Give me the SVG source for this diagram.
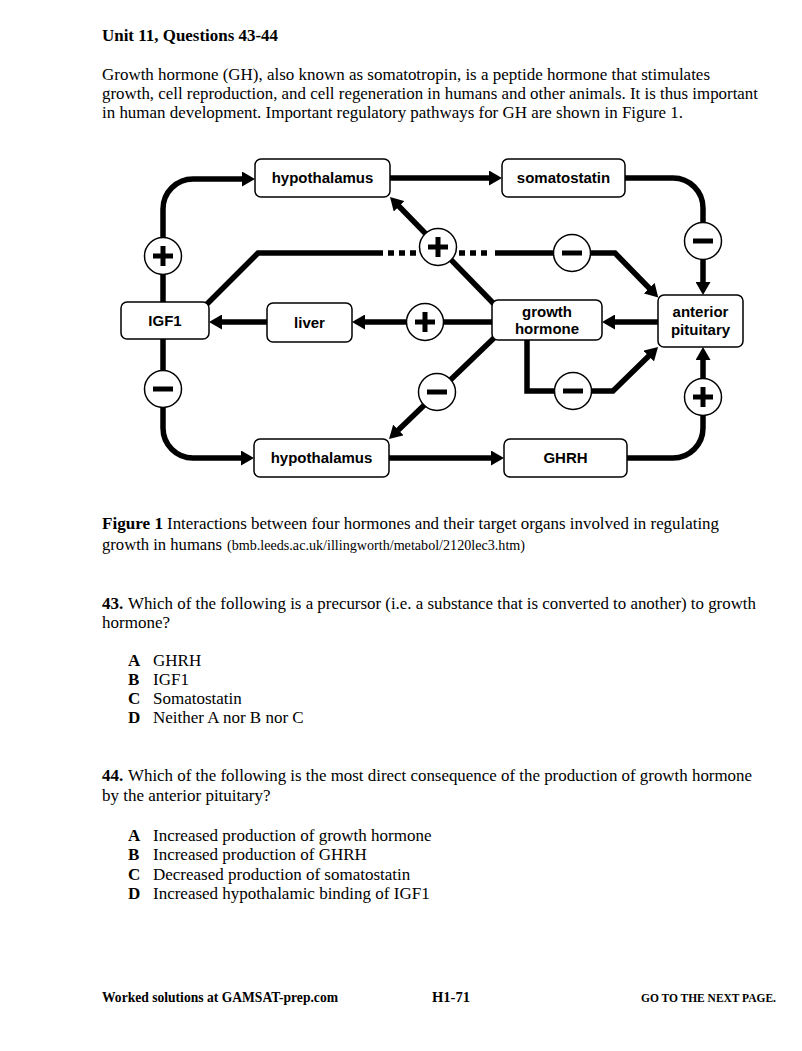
<svg xmlns="http://www.w3.org/2000/svg" width="802" height="1051" viewBox="0 0 802 1051">
<style>
.t{font-family:"Liberation Serif","Times New Roman",serif;font-size:17px;fill:#000}
.b{font-weight:bold}
.s{font-size:14px}
.f{font-size:14.5px}
.g{font-size:11.5px}
.n{font-family:"Liberation Sans",Arial,sans-serif;font-size:15px;font-weight:bold;fill:#000;text-anchor:middle}
.box{fill:#fff;stroke:#000;stroke-width:1.5}
.c{fill:none;stroke:#000;stroke-width:5.5}
.ca{fill:none;stroke:#000;stroke-width:5.5;marker-end:url(#ah)}
.dot{fill:none;stroke:#000;stroke-width:5.5;stroke-dasharray:6 5}
.circ{fill:#fff;stroke:#000;stroke-width:1.5}
.sign{stroke:#000;stroke-width:5;fill:none}
</style>
<defs>
<marker id="ah" markerUnits="userSpaceOnUse" markerWidth="13" markerHeight="15" refX="4" refY="7.5" orient="auto">
<path d="M0,0 L13,7.5 L0,15 z" fill="#000"/>
</marker>
<g id="plus"><circle class="circ" cx="0" cy="0" r="18.5"/><path class="sign" d="M-10,0 H10 M0,-10 V10"/></g>
<g id="minus"><circle class="circ" cx="0" cy="0" r="18.5"/><path class="sign" d="M-10,0 H10"/></g>
</defs>
<rect width="802" height="1051" fill="#fff"/>

<g id="text">
<text class="t b" x="102" y="41" textLength="176" lengthAdjust="spacingAndGlyphs">Unit 11, Questions 43-44</text>
<text class="t" x="102" y="80" textLength="608" lengthAdjust="spacingAndGlyphs">Growth hormone (GH), also known as somatotropin, is a peptide hormone that stimulates</text>
<text class="t" x="102" y="99" textLength="656" lengthAdjust="spacingAndGlyphs">growth, cell reproduction, and cell regeneration in humans and other animals. It is thus important</text>
<text class="t" x="102" y="118" textLength="581" lengthAdjust="spacingAndGlyphs">in human development. Important regulatory pathways for GH are shown in Figure 1.</text>

<text class="t b" x="102" y="529" textLength="61" lengthAdjust="spacingAndGlyphs">Figure 1</text>
<text class="t" x="167" y="529" textLength="552" lengthAdjust="spacingAndGlyphs">Interactions between four hormones and their target organs involved in regulating</text>
<text class="t" x="102" y="550" textLength="120" lengthAdjust="spacingAndGlyphs">growth in humans</text>
<text class="t s" x="227" y="550" textLength="298" lengthAdjust="spacingAndGlyphs">(bmb.leeds.ac.uk/illingworth/metabol/2120lec3.htm)</text>

<text class="t b" x="102" y="609">43.</text>
<text class="t" x="128" y="609" textLength="628" lengthAdjust="spacingAndGlyphs">Which of the following is a precursor (i.e. a substance that is converted to another) to growth</text>
<text class="t" x="102" y="628">hormone?</text>
<text class="t b" x="128" y="666">A</text><text class="t" x="153" y="666">GHRH</text>
<text class="t b" x="128" y="685">B</text><text class="t" x="153" y="685">IGF1</text>
<text class="t b" x="128" y="704">C</text><text class="t" x="153" y="704">Somatostatin</text>
<text class="t b" x="128" y="723">D</text><text class="t" x="153" y="723">Neither A nor B nor C</text>

<text class="t b" x="102" y="781">44.</text>
<text class="t" x="128" y="781" textLength="624" lengthAdjust="spacingAndGlyphs">Which of the following is the most direct consequence of the production of growth hormone</text>
<text class="t" x="102" y="801">by the anterior pituitary?</text>
<text class="t b" x="128" y="841">A</text><text class="t" x="153" y="841">Increased production of growth hormone</text>
<text class="t b" x="128" y="860">B</text><text class="t" x="153" y="860">Increased production of GHRH</text>
<text class="t b" x="128" y="880">C</text><text class="t" x="153" y="880">Decreased production of somatostatin</text>
<text class="t b" x="128" y="899">D</text><text class="t" x="153" y="899">Increased hypothalamic binding of IGF1</text>

<text class="t b f" x="102" y="1002" textLength="236" lengthAdjust="spacingAndGlyphs">Worked solutions at GAMSAT-prep.com</text>
<text class="t b f" x="432" y="1002" textLength="38" lengthAdjust="spacingAndGlyphs">H1-71</text>
<text class="t b g" x="641" y="1002" textLength="135" lengthAdjust="spacingAndGlyphs">GO TO THE NEXT PAGE.</text>
</g>

<g id="connectors">
<path class="ca" d="M163,302 V209 A30,30 0 0 1 193,179 H246"/>
<path class="ca" d="M390,178 H493"/>
<path class="ca" d="M625,178 H673 A30,30 0 0 1 703,208 V286"/>
<path class="c" d="M207,304 L258,253 H383"/>
<path class="dot" d="M388,253 H418"/>
<path class="dot" d="M459,253 H490"/>
<path class="ca" d="M495,253 H615 L652,291"/>
<path class="ca" d="M494,304 L396.3,203.5"/>
<path class="ca" d="M658,322 H611"/>
<path class="ca" d="M492,322 H361"/>
<path class="ca" d="M267,322 H218"/>
<path class="ca" d="M163,339 V428 A30,30 0 0 0 193,458 H245"/>
<path class="ca" d="M494,338 L395.5,432.8"/>
<path class="ca" d="M389,458 H495"/>
<path class="ca" d="M627,458 H673 A30,30 0 0 0 703,428 V356"/>
<path class="ca" d="M527,340 V391 H613 L651.6,353.3"/>
<use href="#plus" x="163" y="256"/>
<use href="#minus" x="703" y="241"/>
<use href="#plus" x="438" y="247"/>
<use href="#minus" x="572" y="253"/>
<use href="#plus" x="425" y="322"/>
<use href="#minus" x="163" y="389"/>
<use href="#minus" x="437" y="392"/>
<use href="#minus" x="573" y="391"/>
<use href="#plus" x="703" y="397"/>
</g>

<g id="hypothalamus-top"><rect class="box" x="255" y="159" width="135" height="38" rx="6"/><text class="n" x="322.5" y="183">hypothalamus</text></g>
<g id="somatostatin"><rect class="box" x="502" y="159" width="123" height="38" rx="6"/><text class="n" x="563.5" y="183">somatostatin</text></g>
<g id="igf1"><rect class="box" x="121" y="302" width="88" height="37" rx="6"/><text class="n" x="165" y="326">IGF1</text></g>
<g id="liver"><rect class="box" x="267" y="303" width="85" height="39" rx="6"/><text class="n" x="309.5" y="328">liver</text></g>
<g id="growth-hormone"><rect class="box" x="492" y="300" width="110" height="40" rx="6"/><text class="n" x="547" y="317">growth</text><text class="n" x="547" y="334">hormone</text></g>
<g id="anterior-pituitary"><rect class="box" x="658" y="295" width="85" height="52" rx="6"/><text class="n" x="700.5" y="317">anterior</text><text class="n" x="700.5" y="335">pituitary</text></g>
<g id="hypothalamus-bottom"><rect class="box" x="254" y="439" width="135" height="38" rx="6"/><text class="n" x="321.5" y="463">hypothalamus</text></g>
<g id="ghrh"><rect class="box" x="504" y="439" width="123" height="38" rx="6"/><text class="n" x="565.5" y="463">GHRH</text></g>
</svg>
